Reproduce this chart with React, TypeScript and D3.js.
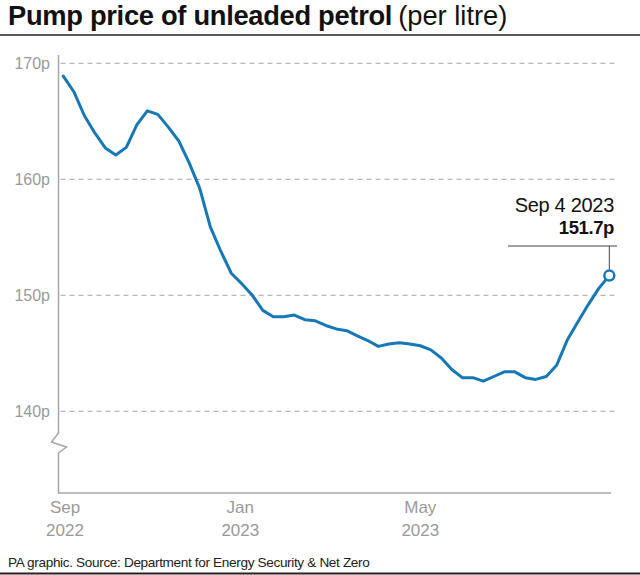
import React from "react";
import * as d3 from "d3";

const dates: string[] = [
  "2022-09-05","2022-09-12","2022-09-19","2022-09-26","2022-10-03","2022-10-10","2022-10-17","2022-10-24","2022-10-31",
  "2022-11-07","2022-11-14","2022-11-21","2022-11-28","2022-12-05","2022-12-12","2022-12-19","2022-12-26",
  "2023-01-02","2023-01-09","2023-01-16","2023-01-23","2023-01-30","2023-02-06","2023-02-13","2023-02-20","2023-02-27",
  "2023-03-06","2023-03-13","2023-03-20","2023-03-27","2023-04-03","2023-04-10","2023-04-17","2023-04-24",
  "2023-05-01","2023-05-08","2023-05-15","2023-05-22","2023-05-29","2023-06-05","2023-06-12","2023-06-19","2023-06-26",
  "2023-07-03","2023-07-10","2023-07-17","2023-07-24","2023-07-31","2023-08-07","2023-08-14","2023-08-21","2023-08-28",
  "2023-09-04",
];

const prices: number[] = [
  168.9, 167.55, 165.5, 164.0, 162.7, 162.1, 162.75, 164.7, 165.9,
  165.6, 164.5, 163.3, 161.4, 159.2, 155.9, 153.8, 151.9,
  151.0, 150.0, 148.7, 148.15, 148.15, 148.3, 147.9, 147.8, 147.4,
  147.1, 146.95, 146.5, 146.1, 145.6, 145.8, 145.9, 145.8,
  145.65, 145.3, 144.6, 143.6, 142.9, 142.9, 142.6, 143.0, 143.4,
  143.4, 142.9, 142.75, 143.0, 144.0, 146.15, 147.7, 149.2, 150.6,
  151.7,
];

const yTicks: number[] = [140, 150, 160, 170];
const xTickDates: string[] = ["2022-09-01", "2023-01-01", "2023-05-01"];
const xTickMonths: string[] = ["Sep", "Jan", "May"];
const xTickYears: string[] = ["2022", "2023", "2023"];

const title = "Pump price of unleaded petrol";
const subtitle = "(per litre)";
const source = "PA graphic. Source: Department for Energy Security & Net Zero";
const annoDate = "Sep 4 2023";
const annoValue = "151.7p";

const W = 640;
const H = 575;
const FONT = "'Liberation Sans', Arial, Helvetica, sans-serif";
const BLUE = "#1778b8";
const GREY = "#a6a6a6";

export default function App() {
  const parse = d3.timeParse("%Y-%m-%d");
  const data = dates.map((d, i) => ({ date: parse(d) as Date, value: prices[i] }));

  const axisX = 58.5;
  const axisBottom = 493;
  const x = d3
    .scaleTime()
    .domain([parse("2022-09-05") as Date, parse("2023-09-04") as Date])
    .range([63.3, 609.3]);
  const y = d3.scaleLinear().domain([140, 170]).range([411.3, 63.3]);

  const line = d3
    .line<{ date: Date; value: number }>()
    .x((d) => x(d.date))
    .y((d) => y(d.value))
    .curve(d3.curveLinear);

  const last = data[data.length - 1];
  const lx = x(last.date);
  const ly = y(last.value);

  return (
    <svg
      width={W}
      height={H}
      style={{ position: "absolute", left: 0, top: 0, background: "#fff" }}
      fontFamily={FONT}
    >
      <rect x={0} y={0} width={W} height={H} fill="#fff" />
      {/* title */}
      <text x={8} y={24.5} fontSize={27.3} fill="#111">
        <tspan fontWeight="bold" letterSpacing={-0.3}>{title}</tspan>
        <tspan fontWeight="normal" dx={6}>{subtitle}</tspan>
      </text>
      <line x1={0} x2={W} y1={35} y2={35} stroke="#222" strokeWidth={1.5} />

      {/* gridlines */}
      {yTicks.map((t) => (
        <g key={t}>
          <line
            x1={axisX + 2}
            x2={615}
            y1={y(t)}
            y2={y(t)}
            stroke={GREY}
            strokeWidth={1}
            strokeDasharray="5,4"
          />
          <text x={50} y={y(t) + 5.5} fontSize={16} fill="#9a9a9a" textAnchor="end">
            {t}p
          </text>
        </g>
      ))}

      {/* axes */}
      <path
        d={`M${axisX},55 V433 L${axisX - 7},442 L${axisX + 8},447 L${axisX},453 V${axisBottom} H611`}
        fill="none"
        stroke={GREY}
        strokeWidth={1.5}
      />

      {xTickDates.map((d, i) => {
        const px = Math.max(x(parse(d) as Date), 65);
        return (
          <g key={d}>
            <text x={px} y={513} fontSize={17} fill="#9a9a9a" textAnchor="middle">
              {xTickMonths[i]}
            </text>
            <text x={px} y={536} fontSize={17} fill="#9a9a9a" textAnchor="middle">
              {xTickYears[i]}
            </text>
          </g>
        );
      })}

      {/* line */}
      <path d={line(data) ?? ""} fill="none" stroke={BLUE} strokeWidth={3} strokeLinejoin="round" strokeLinecap="round" />

      {/* annotation */}
      <line x1={508} x2={617} y1={246} y2={246} stroke="#444" strokeWidth={1} />
      <line x1={lx} x2={lx} y1={246} y2={ly - 6} stroke="#444" strokeWidth={1} />
      <circle cx={lx} cy={ly} r={5} fill="#fff" stroke={BLUE} strokeWidth={2.5} />
      <text x={614} y={212} fontSize={20} fill="#111" textAnchor="end" letterSpacing={-0.3}>
        {annoDate}
      </text>
      <text x={614} y={234} fontSize={18.5} fontWeight="bold" fill="#111" textAnchor="end" letterSpacing={-0.4}>
        {annoValue}
      </text>

      {/* footer */}
      <text x={8} y={567} fontSize={13.6} fill="#222" letterSpacing={-0.35}>
        {source}
      </text>
      <line x1={0} x2={W} y1={573.5} y2={573.5} stroke="#222" strokeWidth={2} />
    </svg>
  );
}
